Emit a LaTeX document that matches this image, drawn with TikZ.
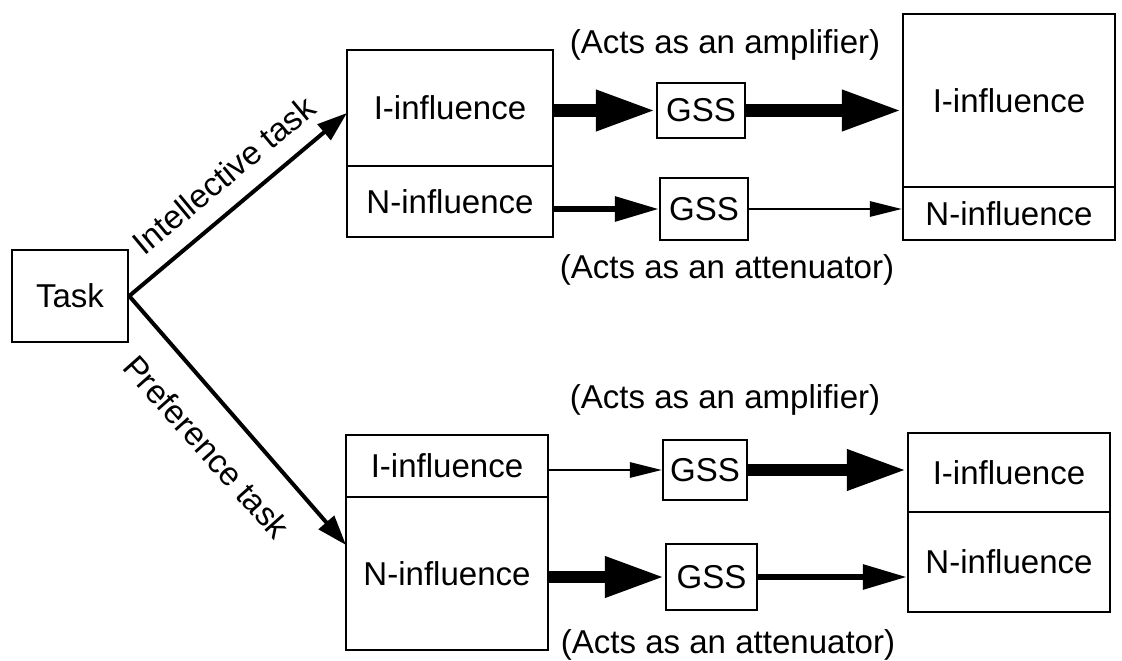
\documentclass[tikz,border=0pt]{standalone}
\usepackage{fontspec}
\setmainfont{Liberation Sans}
\usetikzlibrary{arrows.meta}

\tikzset{
  box/.style={draw, line width=0.06cm, inner sep=0pt},
  note/.style={inner sep=0pt},
  taskarrow/.style={line width=0.1cm, -{Triangle[length=0.75cm, width=0.5cm]}},
  bigarrow/.style={line width=0.32cm, -{Triangle[length=1.5cm, width=0.95cm]}},
  midarrow/.style={line width=0.15cm, -{Triangle[length=1.1cm, width=0.6cm]}},
  thinarrow/.style={line width=0.06cm, -{Triangle[length=0.8cm, width=0.38cm]}},
}

\begin{document}
\begin{tikzpicture}[x=0.025cm, y=-0.025cm, font=\fontsize{23.5}{28}\selectfont]

\useasboundingbox (0,0) rectangle (1122,661);

\node[box, minimum width=116*0.025cm, minimum height=92*0.025cm] (task) at (70,296) {Task};

% -------- Intellective task -----------
\node[box, minimum width=206*0.025cm, minimum height=116*0.025cm] (li1) at (450,108) {I-influence};
\node[box, minimum width=206*0.025cm, minimum height=71*0.025cm]  (ln1) at (450,201.5) {N-influence};

\node[box, minimum width=88*0.025cm, minimum height=55*0.025cm] (gi1) at (701,110.5) {GSS};
\node[box, minimum width=88*0.025cm, minimum height=62*0.025cm] (gn1) at (704,209) {GSS};

\node[box, minimum width=212*0.025cm, minimum height=173*0.025cm] (ri1) at (1009,100.5) {I-influence};
\node[box, minimum width=212*0.025cm, minimum height=53*0.025cm]  (rn1) at (1009,213.5) {N-influence};

\node[note] (amp1) at (725,45) {(Acts as an amplifier)};
\node[note] (att1) at (727,270) {(Acts as an attenuator)};

\draw[bigarrow]  (li1.east |- gi1.west) -- (gi1.west);
\draw[bigarrow]  (gi1.east) -- (gi1.east -| ri1.west);
\draw[midarrow]  (ln1.east |- gn1.west) -- (gn1.west);
\draw[thinarrow] (gn1.east) -- (gn1.east -| rn1.west);

% -------- Preference task -----------
\node[box, minimum width=202*0.025cm, minimum height=62*0.025cm]  (li2) at (447,466) {I-influence};
\node[box, minimum width=202*0.025cm, minimum height=153*0.025cm] (ln2) at (447,573.5) {N-influence};

\node[box, minimum width=84*0.025cm, minimum height=60*0.025cm] (gi2) at (705,470) {GSS};
\node[box, minimum width=91*0.025cm, minimum height=66*0.025cm] (gn2) at (711.5,577) {GSS};

\node[box, minimum width=202*0.025cm, minimum height=79*0.025cm]  (ri2) at (1009,472.5) {I-influence};
\node[box, minimum width=202*0.025cm, minimum height=100*0.025cm] (rn2) at (1009,562) {N-influence};

\node[note] (amp2) at (725,400) {(Acts as an amplifier)};
\node[note] (att2) at (728,645) {(Acts as an attenuator)};

\draw[thinarrow] (li2.east |- gi2.west) -- (gi2.west);
\draw[bigarrow]  (gi2.east) -- (gi2.east -| ri2.west);
\draw[bigarrow]  (ln2.east |- gn2.west) -- (gn2.west);
\draw[midarrow]  (gn2.east) -- (gn2.east -| rn2.west);

% -------- Task arrows -----------
\coordinate (itip) at (347,113);
\coordinate (ptip) at (346,545);
\draw[taskarrow] (task.east) -- (itip);
\draw[taskarrow] (task.east) -- (ptip);
\node[note, rotate=39.7]  (ilabel) at (224,175) {Intellective task};
\node[note, rotate=-48.4] (plabel) at (207,447) {Preference task};

\end{tikzpicture}
\end{document}
